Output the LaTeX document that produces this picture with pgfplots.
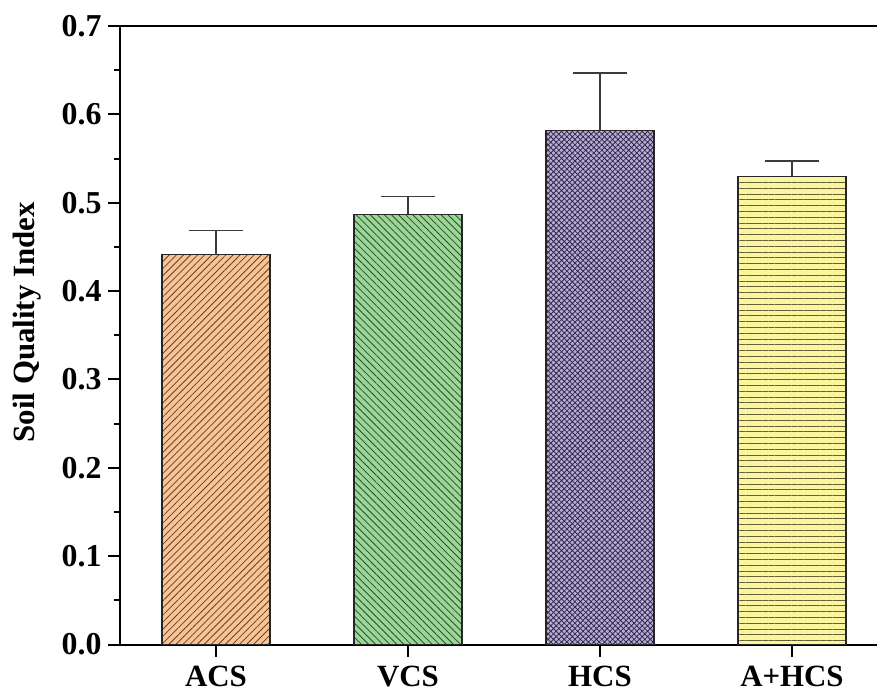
\documentclass[border=0pt]{standalone}
\usepackage{pgfplots}
\pgfplotsset{compat=1.18}
\usepackage{fontspec}
\setmainfont{Liberation Serif}
\usetikzlibrary{patterns.meta}

\definecolor{acsfill}{RGB}{246,196,152}
\definecolor{acsline}{RGB}{105,65,30}
\definecolor{vcsfill}{RGB}{158,212,152}
\definecolor{vcsline}{RGB}{30,85,40}
\definecolor{hcsfill}{RGB}{184,172,212}
\definecolor{hcsline}{RGB}{50,40,75}
\definecolor{ahcsfill}{RGB}{250,246,160}
\definecolor{ahcsline}{RGB}{100,95,55}
\definecolor{errcol}{RGB}{60,60,60}

\begin{document}
\begin{tikzpicture}
\begin{axis}[
  scale only axis, width=757bp, height=618.5bp,
  xmin=-0.5, xmax=3.443, ymin=0, ymax=0.7,
  axis x line=box, axis y line=left,
  axis line style={-, line width=2bp},
  xtick={0,1,2,3}, xticklabels={ACS,VCS,HCS,A+HCS},
  xtick pos=bottom, ytick pos=left,
  ytick={0,0.1,0.2,0.3,0.4,0.5,0.6,0.7},
  minor y tick num=1,
  tick align=outside,
  major tick length=12bp, minor tick length=6bp,
  tick style={line width=2bp, black},
  /pgf/number format/assume math mode=true,
  yticklabel style={/pgf/number format/fixed, /pgf/number format/fixed zerofill, /pgf/number format/precision=1,
    font=\bfseries\fontsize{32}{32}\selectfont, xshift=-3bp},
  xticklabel style={font=\bfseries\fontsize{31}{31}\selectfont, yshift=-6bp},
  every axis y label/.style={at={(rel axis cs:0,0.5)}, xshift=-93bp, yshift=13bp, rotate=90, anchor=center,
    font=\bfseries\fontsize{31}{31}\selectfont},
  ylabel={Soil Quality Index},
  clip=false,
]
\addplot[ybar, bar shift=0pt, bar width=0.5625, draw=black!85, line width=1.2bp, fill=acsfill,
  postaction={pattern={Lines[angle=45,distance=5bp,line width=0.8bp]}, pattern color=acsline}]
  coordinates {(0,0.441)};
\addplot[ybar, bar shift=0pt, bar width=0.5625, draw=black!85, line width=1.2bp, fill=vcsfill,
  postaction={pattern={Lines[angle=-45,distance=5bp,line width=0.8bp]}, pattern color=vcsline}]
  coordinates {(1,0.487)};
\addplot[ybar, bar shift=0pt, bar width=0.5625, draw=black!85, line width=1.2bp, fill=hcsfill,
  postaction={pattern={Hatch[angle=45,distance=3.8bp,line width=0.8bp]}, pattern color=hcsline}]
  coordinates {(2,0.5815)};
\addplot[ybar, bar shift=0pt, bar width=0.5625, draw=black!85, line width=1.2bp, fill=ahcsfill,
  postaction={pattern={Lines[angle=0,distance=5.8bp,line width=1bp]}, pattern color=ahcsline}]
  coordinates {(3,0.530)};
\addplot[draw=none, mark=none,
  error bars/.cd, y dir=plus, y explicit, error mark=|,
  error bar style={draw=errcol, line width=1.5bp},
  error mark options={draw=errcol, line width=1.5bp, mark size=27bp}]
  coordinates {(0,0.441) +- (0,0.0275) (1,0.487) +- (0,0.020) (2,0.5815) +- (0,0.0655) (3,0.530) +- (0,0.017)};
\coordinate (O) at (rel axis cs:0,0);
\end{axis}
\pgfresetboundingbox
\path (O) ++(-120bp,-48.5bp) rectangle ++(877bp,693bp);
\end{tikzpicture}
\end{document}
